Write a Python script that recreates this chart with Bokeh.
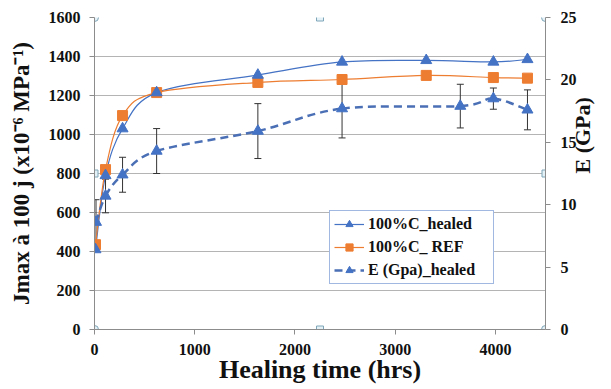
import math
from bokeh.plotting import figure
from bokeh.models import (Range1d, LinearAxis, Whisker, ColumnDataSource, TeeHead,
                          Legend, LegendItem, FixedTicker)
from bokeh.embed import file_html
from bokeh.resources import INLINE

# ---- data ----
hours = [10, 110, 280, 620, 1630, 2470, 3310, 3980, 4320]
healed = [410, 790, 1030, 1215, 1305, 1372, 1380, 1372, 1385]
ref = [435, 820, 1097, 1215, 1267, 1282, 1303, 1292, 1289]
e_hours = [15, 110, 280, 620, 1630, 2470, 3650, 3980, 4320]
e_gpa = [8.6, 10.7, 12.4, 14.3, 15.9, 17.7, 17.9, 18.5, 17.6]
e_err = [1.8, 1.35, 1.4, 1.8, 2.2, 2.35, 1.75, 0.85, 1.6]
x_ticks = [0, 1000, 2000, 3000, 4000]
y_ticks = [0, 200, 400, 600, 800, 1000, 1200, 1400, 1600]
e_ticks = [0, 5, 10, 15, 20, 25]

BLUE = "#4472C4"
ORANGE = "#ED7D31"
DBLUE = "#4A6FB5"
FONT = "Liberation Serif"
TXT = "#111111"

XMAX, YMAX, EMAX = 4500, 1600, 25

p = figure(width=610, height=388, output_backend="svg", toolbar_location=None,
           x_range=Range1d(0, XMAX), y_range=Range1d(0, YMAX),
           min_border_left=94, min_border_top=17, min_border_right=65, min_border_bottom=59)
p.extra_y_ranges = {"E": Range1d(0, EMAX)}
p.outline_line_color = None
p.background_fill_color = "white"
p.border_fill_color = "white"
p.xgrid.grid_line_color = None
p.ygrid.grid_line_color = "#B4B4B4"
p.ygrid.ticker = FixedTicker(ticks=y_ticks)

def style_axis(ax, ticks):
    ax.ticker = FixedTicker(ticks=ticks)
    ax.major_label_text_font = FONT
    ax.major_label_text_font_style = "bold"
    ax.major_label_text_font_size = "16px"
    ax.major_label_text_color = TXT
    ax.major_label_standoff = 9
    ax.axis_line_color = "#8C8C8C"
    ax.major_tick_line_color = "#8C8C8C"
    ax.major_tick_in = 0
    ax.major_tick_out = 5
    ax.minor_tick_line_color = None
    ax.axis_label_text_font = FONT
    ax.axis_label_text_font_style = "bold"
    ax.axis_label_text_color = TXT

style_axis(p.xaxis[0], x_ticks)
style_axis(p.yaxis[0], y_ticks)
p.yaxis[0].axis_label = "Jmax à 100 j (x10\u207b\u2076 MPa\u207b\u00b9)"
p.yaxis[0].axis_label_text_font_size = "23px"
p.yaxis[0].axis_label_standoff = 12

xa = p.xaxis[0]
xa.axis_label = "Healing time (hrs)"
xa.axis_label_text_font_size = "26px"
xa.axis_label_standoff = -3

ax_r = LinearAxis(y_range_name="E", axis_label="E (GPa)")
style_axis(ax_r, e_ticks)
ax_r.major_label_standoff = 10
ax_r.axis_label_text_font_size = "22px"
ax_r.axis_label_standoff = 3
ax_r.axis_label_orientation = math.pi / 2
p.add_layout(ax_r, "right")

# ---- smoothed curves (Catmull-Rom -> cubic Bezier, from the data points) ----
def bezier_segments(xs, ys):
    n = len(xs)
    out = dict(x0=[], y0=[], x1=[], y1=[], cx0=[], cy0=[], cx1=[], cy1=[])
    for i in range(n - 1):
        xp, yp = (xs[i - 1], ys[i - 1]) if i > 0 else (xs[i], ys[i])
        xn2, yn2 = (xs[i + 2], ys[i + 2]) if i + 2 < n else (xs[i + 1], ys[i + 1])
        out["x0"].append(xs[i]); out["y0"].append(ys[i])
        out["x1"].append(xs[i + 1]); out["y1"].append(ys[i + 1])
        out["cx0"].append(xs[i] + (xs[i + 1] - xp) / 6)
        out["cy0"].append(ys[i] + (ys[i + 1] - yp) / 6)
        out["cx1"].append(xs[i + 1] - (xn2 - xs[i]) / 6)
        out["cy1"].append(ys[i + 1] - (yn2 - ys[i]) / 6)
    return ColumnDataSource(out)

kw = dict(x0="x0", y0="y0", x1="x1", y1="y1", cx0="cx0", cy0="cy0", cx1="cx1", cy1="cy1")

# error bars
esrc = ColumnDataSource(dict(x=e_hours, y=e_gpa,
                             lo=[v - e for v, e in zip(e_gpa, e_err)],
                             hi=[v + e for v, e in zip(e_gpa, e_err)]))
wh = Whisker(base="x", lower="lo", upper="hi", source=esrc, y_range_name="E",
             line_color="#333333", line_width=1,
             upper_head=TeeHead(size=7, line_color="#333333", line_width=1),
             lower_head=TeeHead(size=7, line_color="#333333", line_width=1))
p.add_layout(wh)

b1 = p.bezier(source=bezier_segments(hours, healed), line_color=BLUE, line_width=1.2, **kw)
b2 = p.bezier(source=bezier_segments(hours, ref), line_color=ORANGE, line_width=1.2, **kw)
b3 = p.bezier(source=bezier_segments(e_hours, e_gpa), line_color=DBLUE, line_width=2.5,
              line_dash="8 5", y_range_name="E", **kw)

s2 = p.scatter(hours, ref, marker="square", size=10, fill_color=ORANGE, line_color=ORANGE)
s1 = p.scatter(hours, healed, marker="triangle", size=11, fill_color=BLUE, line_color=BLUE)
s3 = p.scatter(e_hours, e_gpa, marker="triangle", size=11, fill_color=BLUE, line_color=BLUE,
               y_range_name="E")

legend = Legend(items=[
    LegendItem(label="100%C_healed", renderers=[b1, s1]),
    LegendItem(label="100%C_ REF", renderers=[b2, s2]),
    LegendItem(label="E (Gpa)_healed", renderers=[b3, s3]),
], location=(235, 45), border_line_color=BLUE, border_line_width=1,
   label_text_font=FONT, label_text_font_style="bold", label_text_font_size="16px",
   label_text_color=TXT, glyph_width=30, glyph_height=18, label_height=18, label_width=121,
   spacing=5, padding=4, margin=0, label_standoff=4, background_fill_alpha=1)
p.add_layout(legend, "center")

# chart-area selection handles (corners / midpoints)
hx = [0, 0, 0, XMAX, XMAX, XMAX]
hy = [0, YMAX / 2, YMAX, 0, YMAX / 2, YMAX]
hm = ["circle", "square", "circle", "circle", "square", "circle"]
p.scatter(hx, hy, marker=hm, size=[8, 7, 8, 8, 7, 8], fill_color="#E4F1F7", line_color="#7FA6B8")
p.scatter([XMAX / 2, XMAX / 2], [0, YMAX], marker="square", size=7,
          fill_color="#E4F1F7", line_color="#7FA6B8")

open("out.html", "w").write(file_html(p, INLINE))
